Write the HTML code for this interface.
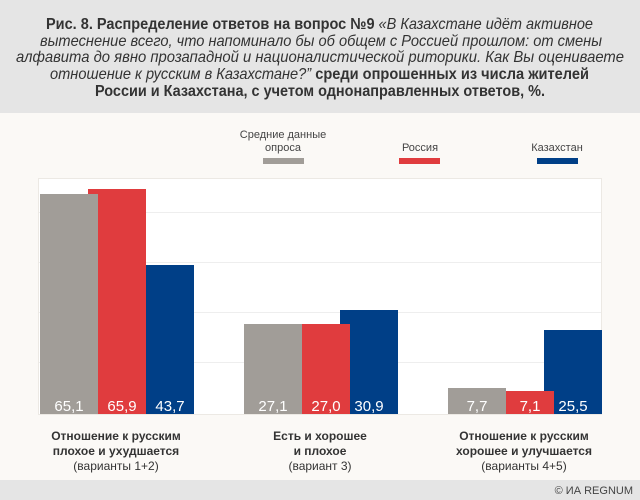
<!DOCTYPE html>
<html><head><meta charset="utf-8"><style>
html,body{margin:0;padding:0;background:#fbf9f6;}
svg{display:block;font-family:"Liberation Sans",sans-serif;}
</style></head><body>
<svg width="640" height="500" viewBox="0 0 640 500" xmlns="http://www.w3.org/2000/svg">
<rect x="0" y="0" width="640" height="500" fill="#fbf9f6"/>
<rect x="0" y="0" width="640" height="113" fill="#e5e5e5"/>
<g font-size="16" fill="#333">
<text x="46" y="29" textLength="547" lengthAdjust="spacingAndGlyphs"><tspan font-weight="bold">Рис. 8. Распределение ответов на вопрос №9 </tspan><tspan font-style="italic">«В Казахстане идёт активное</tspan></text>
<text x="40" y="46" textLength="562" lengthAdjust="spacingAndGlyphs" font-style="italic">вытеснение всего, что напоминало бы об общем с Россией прошлом: от смены</text>
<text x="16" y="62" textLength="608" lengthAdjust="spacingAndGlyphs" font-style="italic">алфавита до явно прозападной и националистической риторики. Как Вы оцениваете</text>
<text x="50" y="79" textLength="539" lengthAdjust="spacingAndGlyphs"><tspan font-style="italic">отношение к русским в Казахстане?”</tspan><tspan font-weight="bold"> среди опрошенных из числа жителей</tspan></text>
<text x="95" y="96" textLength="450" lengthAdjust="spacingAndGlyphs" font-weight="bold">России и  Казахстана, с учетом однонаправленных ответов, %.</text>
</g>
<g font-size="11" fill="#444" text-anchor="middle">
<text x="283" y="138">Средние данные</text>
<text x="283" y="151">опроса</text>
<text x="420" y="151">Россия</text>
<text x="557" y="151">Казахстан</text>
</g>
<rect x="263" y="158" width="41" height="6" fill="#a19d98"/>
<rect x="399" y="158" width="41" height="6" fill="#e03c3e"/>
<rect x="537" y="158" width="41" height="6" fill="#003f87"/>
<rect x="38.5" y="178.5" width="563" height="236" fill="#fff" stroke="#ece9e4"/>
<g stroke="#eeeeee" stroke-width="1">
<line x1="39" y1="212.5" x2="601" y2="212.5"/>
<line x1="39" y1="262.5" x2="601" y2="262.5"/>
<line x1="39" y1="312.5" x2="601" y2="312.5"/>
<line x1="39" y1="362.5" x2="601" y2="362.5"/>
</g>
<!-- group1 -->
<rect x="136" y="265" width="58" height="149" fill="#003f87"/>
<rect x="88" y="189" width="58" height="225" fill="#e03c3e"/>
<rect x="40" y="194" width="58" height="220" fill="#a19d98"/>
<!-- group2 -->
<rect x="340" y="310" width="58" height="104" fill="#003f87"/>
<rect x="292" y="324" width="58" height="90" fill="#e03c3e"/>
<rect x="244" y="324" width="58" height="90" fill="#a19d98"/>
<!-- group3 -->
<rect x="544" y="330" width="58" height="84" fill="#003f87"/>
<rect x="496" y="391" width="58" height="23" fill="#e03c3e"/>
<rect x="448" y="388" width="58" height="26" fill="#a19d98"/>
<g font-size="15" fill="#fff" text-anchor="middle">
<text x="69" y="411">65,1</text><text x="122" y="411">65,9</text><text x="170" y="411">43,7</text>
<text x="273" y="411">27,1</text><text x="326" y="411">27,0</text><text x="369" y="411">30,9</text>
<text x="477" y="411">7,7</text><text x="530" y="411">7,1</text><text x="573" y="411">25,5</text>
</g>
<g font-size="12" fill="#333" text-anchor="middle">
<text x="116" y="440" font-weight="bold">Отношение к русским</text>
<text x="116" y="455" font-weight="bold">плохое и ухудшается</text>
<text x="116" y="470">(варианты 1+2)</text>
<text x="320" y="440" font-weight="bold">Есть и хорошее</text>
<text x="320" y="455" font-weight="bold">и плохое</text>
<text x="320" y="470">(вариант 3)</text>
<text x="524" y="440" font-weight="bold">Отношение к русским</text>
<text x="524" y="455" font-weight="bold">хорошее и улучшается</text>
<text x="524" y="470">(варианты 4+5)</text>
</g>
<rect x="0" y="480" width="640" height="20" fill="#e5e5e5"/>
<text x="633" y="494" font-size="11" fill="#444" text-anchor="end">© ИА REGNUM</text>
</svg>
</body></html>
